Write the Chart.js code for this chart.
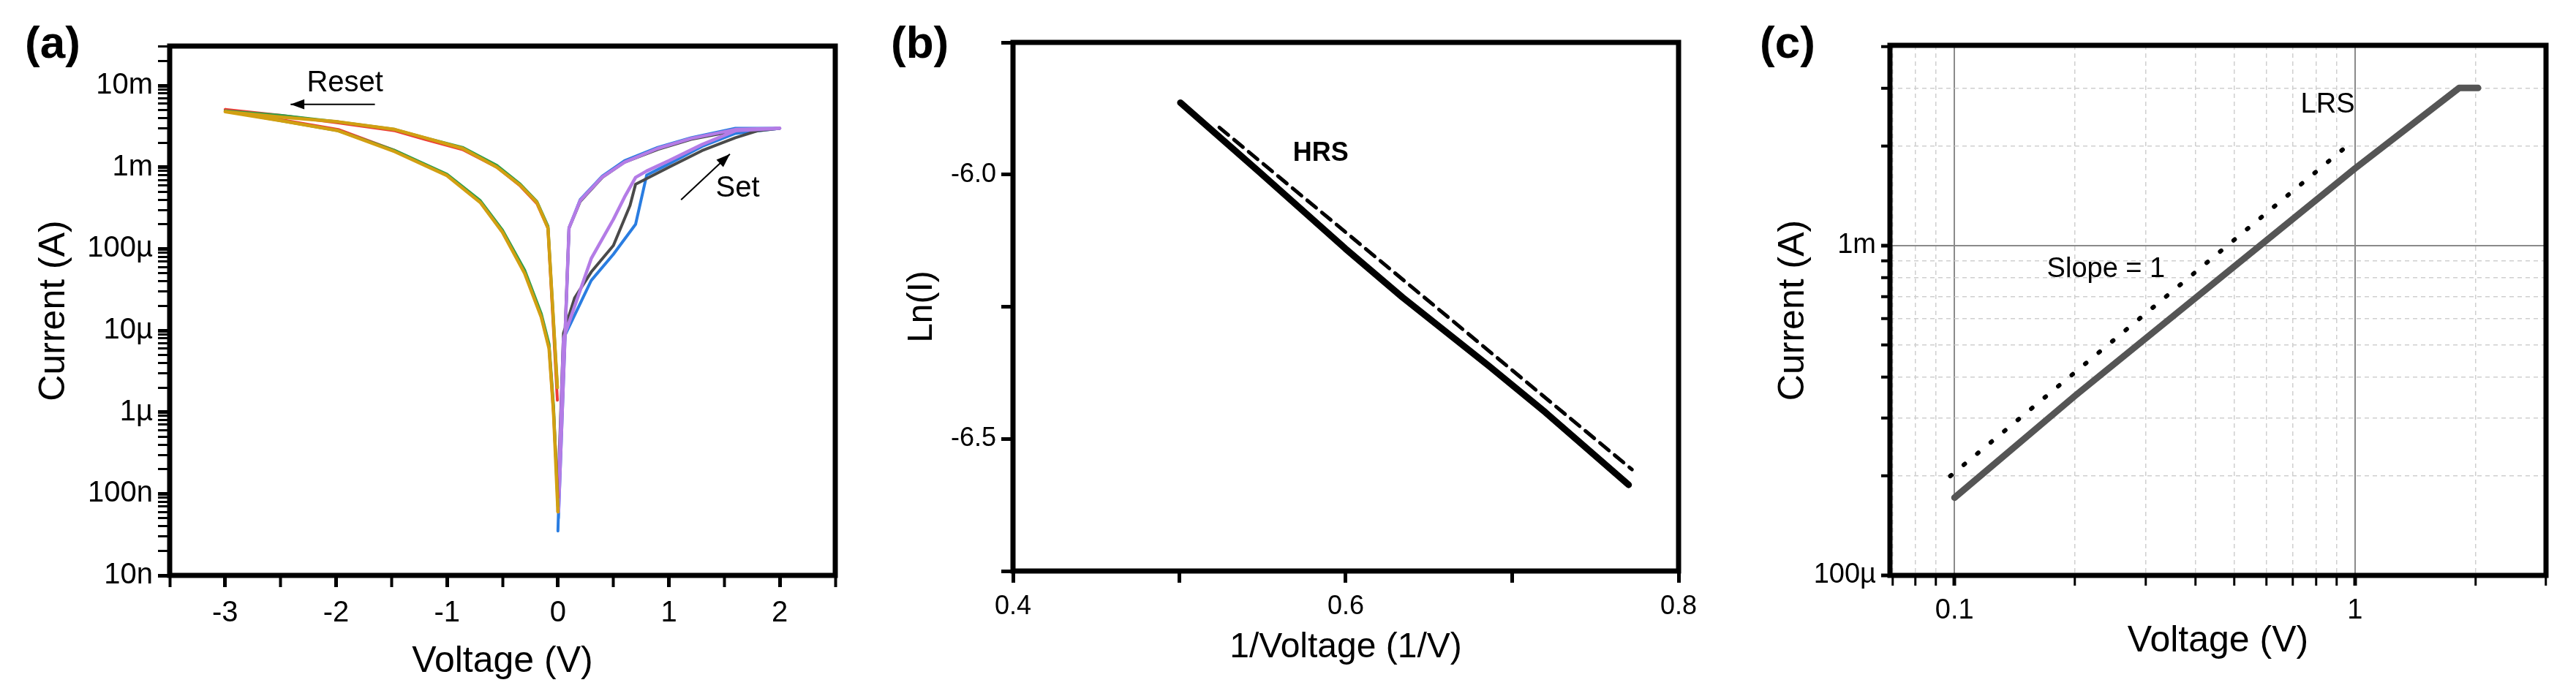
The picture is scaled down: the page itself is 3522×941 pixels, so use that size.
<!DOCTYPE html>
<html>
<head>
<meta charset="utf-8">
<script src="https://cdn.jsdelivr.net/npm/chart.js@4.4.1/dist/chart.umd.min.js"></script>
<style>
  body { margin: 0; background: #fff; width: 3522px; height: 941px; position: relative; overflow: hidden; }
  canvas { position: absolute; top: 0; }
  .tag { position: absolute; top: 22px; font: bold 62px "Liberation Sans", Arial, sans-serif; color: #000; }
</style>
</head>
<body>
<div class="tag" style="left:34px">(a)</div>
<div class="tag" style="left:1218px">(b)</div>
<div class="tag" style="left:2406px">(c)</div>
<canvas id="ca" width="1200" height="941" style="left:0;width:1200px;height:941px"></canvas>
<canvas id="cb" width="1170" height="941" style="left:1180px;width:1170px;height:941px"></canvas>
<canvas id="cc" width="1172" height="941" style="left:2350px;width:1172px;height:941px"></canvas>
<script>
// ---- panel (a): I-V sweeps ----
const resetV = [-0.005, -0.09, -0.19, -0.34, -0.55, -0.86, -1.2, -1.47, -1.98, -2.49, -3.0,
                -2.49, -1.98, -1.47, -1.0, -0.7, -0.5, -0.3, -0.15, -0.08, -0.04, 0];
const redI = [1.4e-6, 1.8e-4, 3.6e-4, 5.9e-4, 1.0e-3, 1.65e-3, 2.2e-3, 2.8e-3, 3.5e-3, 4.3e-3, 5.1e-3,
              3.8e-3, 2.9e-3, 1.6e-3, 8.0e-4, 3.8e-4, 1.6e-4, 5.2e-5, 1.5e-5, 6.3e-6, 1.0e-6, 9e-8];
const greenI = [2.0e-6, 1.9e-4, 3.8e-4, 6.2e-4, 1.05e-3, 1.75e-3, 2.3e-3, 2.9e-3, 3.6e-3, 4.3e-3, 4.9e-3,
                3.7e-3, 2.8e-3, 1.6e-3, 8.2e-4, 3.9e-4, 1.7e-4, 5.5e-5, 1.6e-5, 6.8e-6, 1.2e-6, 7e-8];
const goldI = [2.0e-6, 1.8e-4, 3.7e-4, 6.0e-4, 1.0e-3, 1.7e-3, 2.3e-3, 2.9e-3, 3.6e-3, 4.1e-3, 4.8e-3,
               3.7e-3, 2.8e-3, 1.55e-3, 7.9e-4, 3.7e-4, 1.6e-4, 5.0e-5, 1.45e-5, 6.0e-6, 1.0e-6, 6e-8];
const grayV = [0, 0.05, 0.15, 0.3, 0.5, 0.65, 0.7, 1.0, 1.3, 1.6, 1.8, 2.0, 1.6, 1.2, 0.9, 0.6, 0.4, 0.2, 0.1, 0.005];
const grayI = [1e-7, 9.3e-6, 2.5e-5, 5.2e-5, 1.1e-4, 3.4e-4, 6.2e-4, 1.0e-3, 1.6e-3, 2.3e-3, 2.8e-3, 3.0e-3,
               2.8e-3, 2.2e-3, 1.65e-3, 1.15e-3, 7.5e-4, 3.8e-4, 1.8e-4, 8e-8];
const blueV = [0, 0.05, 0.3, 0.5, 0.7, 0.8, 1.0, 1.3, 1.6, 2.0, 1.6, 1.2, 0.9, 0.6, 0.4, 0.2, 0.1, 0.005];
const blueI = [3.5e-8, 8e-6, 4.1e-5, 8.6e-5, 2.0e-4, 8.0e-4, 1.1e-3, 1.8e-3, 2.6e-3, 3.0e-3,
               3.0e-3, 2.3e-3, 1.75e-3, 1.2e-3, 7.8e-4, 4.0e-4, 1.8e-4, 5e-8];
const purpleV = [0, 0.05, 0.3, 0.5, 0.6, 0.7, 0.8, 1.0, 1.3, 1.6, 2.0, 1.6, 1.2, 0.9, 0.6, 0.4, 0.2, 0.1, 0.005];
const purpleI = [6e-8, 8e-6, 7.6e-5, 2.3e-4, 4.3e-4, 7.5e-4, 9.0e-4, 1.2e-3, 1.9e-3, 2.8e-3, 3.0e-3,
                 2.9e-3, 2.25e-3, 1.7e-3, 1.15e-3, 7.6e-4, 3.9e-4, 1.8e-4, 6e-8];
const aYTicks = [1e-8, 1e-7, 1e-6, 1e-5, 1e-4, 1e-3, 1e-2];
const aYLabels = ["10n", "100n", "1µ", "10µ", "100µ", "1m", "10m"];

// ---- panel (b): Ln(I) vs 1/V ----
const hrsX = [0.5006, 0.548, 0.5997, 0.634, 0.686, 0.72, 0.77];
const hrsY = [-5.864, -5.995, -6.140, -6.232, -6.362, -6.450, -6.587];
const fitBX = [0.524, 0.772];
const fitBY = [-5.911, -6.558];

// ---- panel (c): log-log LRS ----
const lrsV = [0.1, 0.201, 1.0, 1.82, 2.03];
const lrsI = [1.72e-4, 3.52e-4, 1.71e-3, 3.0e-3, 3.0e-3];
const slopeV = [0.0976, 0.969];
const slopeI = [2.0e-4, 2.03e-3];
const cXTicks = [0.07, 0.08, 0.09, 0.1, 0.2, 0.3, 0.4, 0.5, 0.6, 0.7, 0.8, 0.9, 1, 2, 3];
const cYTicks = [1e-4, 2e-4, 3e-4, 4e-4, 5e-4, 6e-4, 7e-4, 8e-4, 9e-4, 1e-3, 2e-3, 3e-3, 4e-3];

// ---- annotations: [text, x, y] and arrows [x0, y0, x1, y1] in data units ----
const aNotes = [["Reset", -1.92, 1.06e-2], ["Set", 1.62, 5.5e-4]];
const aArrows = [[-1.65, 5.9e-3, -2.41, 5.9e-3], [1.11, 4.0e-4, 1.55, 1.45e-3]];
const bNotes = [["HRS", 0.585, -5.96]];
const cNotes = [["LRS", 0.855, 2.67e-3], ["Slope = 1", 0.239, 8.45e-4]];

const FONT = "'Liberation Sans', Arial, sans-serif";
const pts = (xs, ys) => xs.map((x, i) => ({ x, y: ys[i] }));
const isDecade = (v) => Math.abs(Math.log10(v) - Math.round(Math.log10(v))) < 1e-6;

const boxPlugin = {
  id: "box",
  afterDraw(chart) {
    const { ctx, chartArea: a } = chart;
    ctx.save();
    ctx.lineWidth = 7;
    ctx.strokeStyle = "#000";
    ctx.strokeRect(a.left, a.top, a.right - a.left, a.bottom - a.top);
    ctx.restore();
  },
};

function notesPlugin(notes, arrows, font) {
  return {
    id: "notes",
    afterDatasetsDraw(chart) {
      const { ctx, scales } = chart;
      ctx.save();
      ctx.fillStyle = "#000";
      ctx.strokeStyle = "#000";
      ctx.font = font;
      ctx.textAlign = "center";
      ctx.textBaseline = "middle";
      notes.forEach(([t, x, y]) => ctx.fillText(t, scales.x.getPixelForValue(x), scales.y.getPixelForValue(y)));
      (arrows || []).forEach(([x0, y0, x1, y1]) => {
        const px0 = scales.x.getPixelForValue(x0), py0 = scales.y.getPixelForValue(y0);
        const px1 = scales.x.getPixelForValue(x1), py1 = scales.y.getPixelForValue(y1);
        ctx.lineWidth = 2;
        ctx.beginPath(); ctx.moveTo(px0, py0); ctx.lineTo(px1, py1); ctx.stroke();
        const ang = Math.atan2(py1 - py0, px1 - px0);
        ctx.beginPath();
        ctx.moveTo(px1, py1);
        ctx.lineTo(px1 - 20 * Math.cos(ang - 0.35), py1 - 20 * Math.sin(ang - 0.35));
        ctx.lineTo(px1 - 20 * Math.cos(ang + 0.35), py1 - 20 * Math.sin(ang + 0.35));
        ctx.closePath(); ctx.fill();
      });
      ctx.restore();
    },
  };
}

function line(data, color, width, dash) {
  return { data, borderColor: color, borderWidth: width, borderDash: dash || [], pointRadius: 0,
           showLine: true, fill: false, tension: 0, borderCapStyle: "round", borderJoinStyle: "round" };
}

Chart.defaults.font.family = FONT;
Chart.defaults.color = "#000";
const base = { responsive: false, animation: false, devicePixelRatio: 1,
               plugins: { legend: { display: false }, tooltip: { enabled: false } } };

// (a) -- first dataset is drawn on top
new Chart(document.getElementById("ca"), {
  type: "scatter",
  data: { datasets: [
    line(pts(resetV, goldI), "#d29f12", 4.5),
    line(pts(resetV, greenI), "#2f9e4a", 4),
    line(pts(resetV, redI), "#ef3b36", 4),
    line(pts(purpleV, purpleI), "#b47ce6", 4.5),
    line(pts(grayV, grayI), "#4a4a4a", 4),
    line(pts(blueV, blueI), "#2a7de1", 4),
  ] },
  options: { ...base,
    layout: { padding: { top: 63, right: 58, left: 0, bottom: 0 } },
    scales: {
      x: { type: "linear", min: -3.5, max: 2.5,
        afterBuildTicks: (s) => { s.ticks = [-3.5, -3, -2.5, -2, -1.5, -1, -0.5, 0, 0.5, 1, 1.5, 2, 2.5].map((v) => ({ value: v })); },
        afterFit: (s) => { s.height = 154; },
        ticks: { font: { size: 40 }, padding: 12, autoSkip: false, maxRotation: 0,
          callback: (v) => (Number.isInteger(v) ? String(v) : "") },
        grid: { drawOnChartArea: false, tickLength: 16, tickColor: "#000",
          tickWidth: (c) => (Number.isInteger(c.tick.value) ? 5 : 4) },
        border: { display: false },
        title: { display: true, text: "Voltage (V)", font: { size: 50 }, padding: { top: 0, bottom: 6 } } },
      y: { type: "logarithmic", min: 1e-8, max: 3.05e-2,
        afterBuildTicks: (s) => {
          const t = [];
          aYTicks.forEach((d) => { for (let k = 1; k <= 9; k++) if (d * k <= 3.05e-2) t.push({ value: d * k }); });
          s.ticks = t;
        },
        afterFit: (s) => { s.width = 232; },
        ticks: { font: { size: 40 }, padding: 7, autoSkip: false,
          callback: (v) => { const i = aYTicks.findIndex((d) => Math.abs(d - v) / d < 1e-6); return i >= 0 ? aYLabels[i] : ""; } },
        grid: { drawOnChartArea: false, tickLength: 16, tickColor: "#000",
          tickWidth: (c) => (isDecade(c.tick.value) ? 5 : 3) },
        border: { display: false },
        title: { display: true, text: "Current (A)", font: { size: 50 }, padding: { top: 44, bottom: 0 } } },
    } },
  plugins: [boxPlugin, notesPlugin(aNotes, aArrows, "40px " + FONT)],
});

// (b)
new Chart(document.getElementById("cb"), {
  type: "scatter",
  data: { datasets: [
    line(pts(hrsX, hrsY), "#000", 9),
    line(pts(fitBX, fitBY), "#000", 5, [16, 10]),
  ] },
  options: { ...base,
    layout: { padding: { top: 58, right: 55, left: 0, bottom: 0 } },
    scales: {
      x: { type: "linear", min: 0.4, max: 0.8,
        afterBuildTicks: (s) => { s.ticks = [0.4, 0.5, 0.6, 0.7, 0.8].map((v) => ({ value: v })); },
        afterFit: (s) => { s.height = 160; },
        ticks: { font: { size: 36 }, padding: 11, autoSkip: false, maxRotation: 0,
          callback: (v) => (Math.round(v * 10) % 2 === 0 ? v.toFixed(1) : "") },
        grid: { drawOnChartArea: false, tickLength: 16, tickColor: "#000", tickWidth: 5 },
        border: { display: false },
        title: { display: true, text: "1/Voltage (1/V)", font: { size: 48 }, padding: { top: 0, bottom: 26 } } },
      y: { type: "linear", min: -6.75, max: -5.75,
        afterBuildTicks: (s) => { s.ticks = [-6.75, -6.5, -6.25, -6.0, -5.75].map((v) => ({ value: v })); },
        afterFit: (s) => { s.width = 205; },
        ticks: { font: { size: 36 }, padding: 7, autoSkip: false,
          callback: (v) => (Math.abs(v * 2 - Math.round(v * 2)) < 1e-6 ? v.toFixed(1) : "") },
        grid: { drawOnChartArea: false, tickLength: 16, tickColor: "#000", tickWidth: 5 },
        border: { display: false },
        title: { display: true, text: "Ln(I)", font: { size: 48 }, padding: { top: 52, bottom: 0 } } },
    } },
  plugins: [boxPlugin, notesPlugin(bNotes, [], "bold 36px " + FONT)],
});

// (c)
new Chart(document.getElementById("cc"), {
  type: "scatter",
  data: { datasets: [
    line(pts(lrsV, lrsI), "#555555", 9),
    line(pts(slopeV, slopeI), "#000", 6, [2, 22]),
  ] },
  options: { ...base,
    layout: { padding: { top: 62, right: 41, left: 0, bottom: 0 } },
    scales: {
      x: { type: "logarithmic", min: 0.069, max: 3.0,
        afterBuildTicks: (s) => { s.ticks = cXTicks.map((v) => ({ value: v })); },
        afterFit: (s) => { s.height = 154; },
        ticks: { font: { size: 38 }, padding: 12, autoSkip: false, maxRotation: 0,
          callback: (v) => (Math.abs(v - 0.1) < 1e-9 ? "0.1" : Math.abs(v - 1) < 1e-9 ? "1" : "") },
        grid: { tickLength: 14, tickColor: "#000",
          color: (c) => (c.tick && isDecade(c.tick.value) ? "#8a8a8a" : "#cfcfcf"),
          lineWidth: (c) => (c.tick && isDecade(c.tick.value) ? 2 : 1.5),
          tickWidth: (c) => (c.tick && isDecade(c.tick.value) ? 5 : 3) },
        border: { display: false, dash: (c) => (c.tick && isDecade(c.tick.value) ? [] : [6, 5]) },
        title: { display: true, text: "Voltage (V)", font: { size: 50 }, padding: { top: 0, bottom: 34 } } },
      y: { type: "logarithmic", min: 1e-4, max: 4.04e-3,
        afterBuildTicks: (s) => { s.ticks = cYTicks.map((v) => ({ value: v })); },
        afterFit: (s) => { s.width = 234; },
        ticks: { font: { size: 38 }, padding: 7, autoSkip: false,
          callback: (v) => (Math.abs(v - 1e-4) < 1e-12 ? "100µ" : Math.abs(v - 1e-3) < 1e-12 ? "1m" : "") },
        grid: { tickLength: 12, tickColor: "#000",
          color: (c) => (c.tick && isDecade(c.tick.value) ? "#8a8a8a" : "#cfcfcf"),
          lineWidth: (c) => (c.tick && isDecade(c.tick.value) ? 2 : 1.5),
          tickWidth: (c) => (c.tick && isDecade(c.tick.value) ? 5 : 4) },
        border: { display: false, dash: (c) => (c.tick && isDecade(c.tick.value) ? [] : [6, 5]) },
        title: { display: true, text: "Current (A)", font: { size: 50 }, padding: { top: 72, bottom: 0 } } },
    } },
  plugins: [boxPlugin, notesPlugin(cNotes, [], "38px " + FONT)],
});
</script>
</body>
</html>
